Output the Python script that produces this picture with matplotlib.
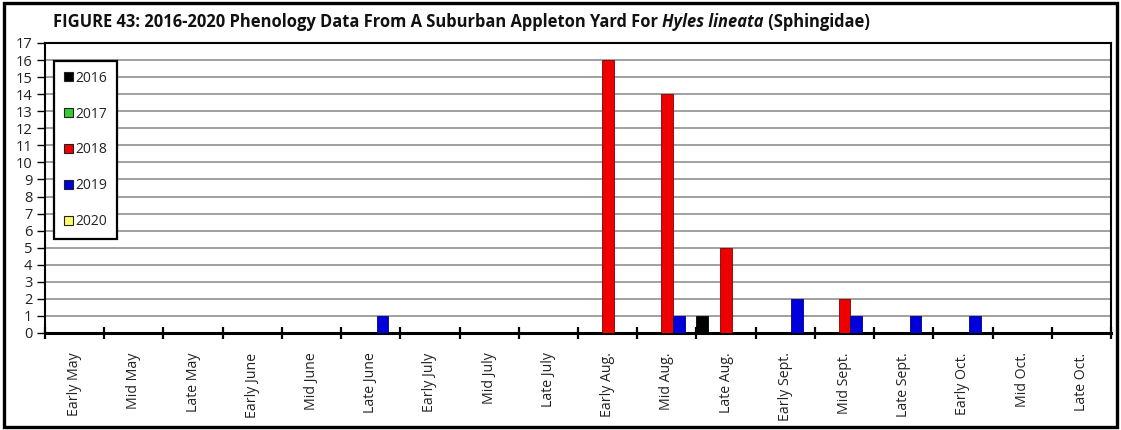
import matplotlib
matplotlib.use("Agg")
import matplotlib.pyplot as plt
from matplotlib.patches import Rectangle
import numpy as np

plt.rcParams["font.family"] = ["Open Sans", "DejaVu Sans"]

periods = ["Early May", "Mid May", "Late May", "Early June", "Mid June", "Late June",
           "Early July", "Mid July", "Late July", "Early Aug.", "Mid Aug.", "Late Aug.",
           "Early Sept.", "Mid Sept.", "Late Sept.", "Early Oct.", "Mid Oct.", "Late Oct."]
years = ["2016", "2017", "2018", "2019", "2020"]

counts_2016 = [0, 0, 0, 0, 0, 0, 0, 0, 0, 0, 0, 1, 0, 0, 0, 0, 0, 0]
counts_2017 = [0, 0, 0, 0, 0, 0, 0, 0, 0, 0, 0, 0, 0, 0, 0, 0, 0, 0]
counts_2018 = [0, 0, 0, 0, 0, 0, 0, 0, 0, 16, 14, 5, 0, 2, 0, 0, 0, 0]
counts_2019 = [0, 0, 0, 0, 0, 1, 0, 0, 0, 0, 1, 0, 2, 1, 1, 1, 0, 0]
counts_2020 = [0, 0, 0, 0, 0, 0, 0, 0, 0, 0, 0, 0, 0, 0, 0, 0, 0, 0]

series = [counts_2016, counts_2017, counts_2018, counts_2019, counts_2020]
fills = ["#000000", "#33cc33", "#ee0000", "#0000dd", "#ffff66"]
edges = ["#000000", "#1a661a", "#800000", "#000080", "#666600"]

fig = plt.figure(figsize=(11.21, 4.30), dpi=100)
ax = fig.add_axes([45 / 1121, 1 - 333 / 430, 1066 / 1121, 290 / 430])

x = np.arange(len(periods))
w = 0.2
handles = []
for k, (vals, fc, ec) in enumerate(zip(series, fills, edges)):
    ax.bar(x + (k - 2) * w, vals, width=w, color=fc, edgecolor=ec, linewidth=0.6, zorder=3)
    handles.append(Rectangle((0, 0), 1, 1, facecolor=fc, edgecolor="#222222", linewidth=0.8))

ax.set_xlim(-0.5, len(periods) - 0.5)
ax.set_ylim(0, 17)
ax.set_yticks(range(0, 18))
ax.yaxis.grid(True, color="#999999", linewidth=1.3, zorder=0)
ax.set_axisbelow(True)

ax.set_xticks(x)
ax.set_xticklabels(periods, rotation=90, fontsize=10.2, color="#222222")
ax.tick_params(axis="x", which="major", length=0, pad=14)
ax.set_xticks(np.arange(-0.5, len(periods) + 0.5), minor=True)
ax.tick_params(axis="x", which="minor", direction="inout", length=9, width=1.6, color="black")
ax.tick_params(axis="y", direction="out", length=6, width=1.0, labelsize=10.5,
               labelcolor="#222222", pad=3)

for side in ["top", "right", "left"]:
    ax.spines[side].set_linewidth(1.5)
ax.spines["bottom"].set_linewidth(2.2)

leg = ax.legend(handles, years, loc="upper left", bbox_to_anchor=(0.0085, 0.938),
                fontsize=10, labelspacing=1.5, handlelength=0.65, handleheight=0.65,
                handletextpad=0.2, borderpad=0.7, borderaxespad=0, fancybox=False,
                framealpha=1, edgecolor="black")
leg.get_frame().set_linewidth(1.6)
for t in leg.get_texts():
    t.set_color("#222222")

# title with italic species name
parts = [("FIGURE 43: 2016-2020 Phenology Data From A Suburban Appleton Yard For ", "normal"),
         ("Hyles lineata", "italic"),
         (" (Sphingidae)", "normal")]
fig.canvas.draw()
renderer = fig.canvas.get_renderer()
xpos = 53 / 1121
for txt, style in parts:
    t = fig.text(xpos, 1 - 22 / 430, txt, fontsize=11.9, fontweight="bold", style=style,
                 ha="left", va="center", color="#111111")
    bb = t.get_window_extent(renderer=renderer)
    xpos += bb.width / fig.bbox.width

fig.patches.append(Rectangle((0.0035, 0.006), 0.993, 0.988, transform=fig.transFigure,
                             fill=False, edgecolor="black", linewidth=2.4))

fig.savefig("out.png", dpi=100)
plt.close()
